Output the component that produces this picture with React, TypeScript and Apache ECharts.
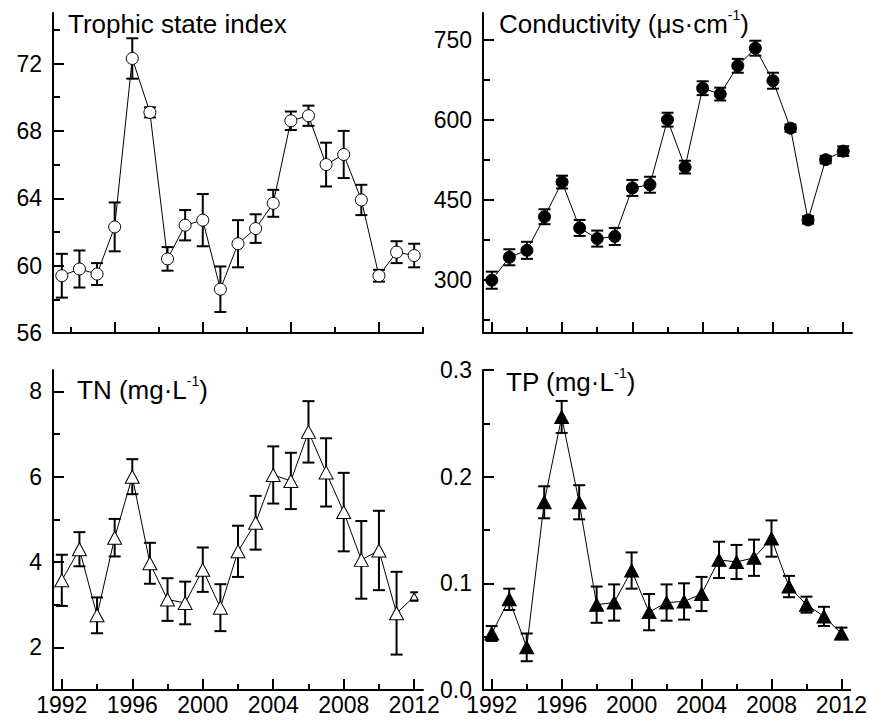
import React, { useEffect, useRef } from "react";
import * as echarts from "echarts";

const years = [1992, 1993, 1994, 1995, 1996, 1997, 1998, 1999, 2000, 2001, 2002, 2003, 2004, 2005, 2006, 2007, 2008, 2009, 2010, 2011, 2012];

const tsiMean = [59.4, 59.8, 59.5, 62.3, 72.3, 69.1, 60.4, 62.4, 62.7, 58.6, 61.3, 62.2, 63.7, 68.6, 68.9, 66.0, 66.6, 63.9, 59.4, 60.8, 60.6];
const tsiErr = [1.3, 1.1, 0.65, 1.45, 1.2, 0.3, 0.7, 0.9, 1.55, 1.35, 1.4, 0.85, 0.8, 0.55, 0.6, 1.3, 1.4, 0.9, 0.35, 0.65, 0.7];

const condMean = [299, 342, 355, 418, 483, 397, 377, 381, 472, 478, 600, 511, 659, 648, 701, 734, 673, 584, 412, 525, 541];
const condErr = [16, 15, 16, 14, 12, 15, 15, 16, 15, 15, 13, 12, 13, 12, 13, 14, 15, 7, 7, 7, 9];

const tnMean = [3.57, 4.3, 2.75, 4.57, 6.0, 3.97, 3.12, 3.04, 3.82, 2.93, 4.25, 4.92, 6.04, 5.9, 7.05, 6.1, 5.17, 4.05, 4.27, 2.8, 3.19];
const tnErr = [0.6, 0.4, 0.42, 0.44, 0.41, 0.48, 0.5, 0.5, 0.52, 0.55, 0.6, 0.63, 0.67, 0.66, 0.72, 0.8, 0.92, 0.91, 0.93, 0.97, 0.1];

const tpMean = [0.053, 0.085, 0.04, 0.176, 0.256, 0.176, 0.08, 0.082, 0.112, 0.073, 0.082, 0.083, 0.09, 0.122, 0.12, 0.124, 0.142, 0.097, 0.08, 0.069, 0.053];
const tpErr = [0.007, 0.01, 0.013, 0.015, 0.015, 0.016, 0.017, 0.017, 0.017, 0.017, 0.017, 0.017, 0.016, 0.017, 0.016, 0.017, 0.017, 0.01, 0.0075, 0.009, 0.0055];

const xMajorTop = [1995, 2000, 2005, 2010];
const xMinorTop = [1992.5, 1997.5, 2002.5, 2007.5, 2012.5];
const xMajorBottom = [1992, 1996, 2000, 2004, 2008, 2012];
const xMinorBottom = [1994, 1998, 2002, 2006, 2010];

const tsiTicks = [56, 60, 64, 68, 72];
const tsiMinor = [58, 62, 66, 70, 74];
const condTicks = [300, 450, 600, 750];
const condMinor = [225, 375, 525, 675];
const tnTicks = [2, 4, 6, 8];
const tnMinor = [3, 5, 7];
const tpTicks = [0, 0.1, 0.2, 0.3];
const tpMinor = [0.05, 0.15, 0.25];

const FONT = "Liberation Sans";

export default function App() {
  const ref = useRef<HTMLDivElement>(null);

  useEffect(() => {
    if (!ref.current) return;
    const chart = echarts.init(ref.current, null, { renderer: "svg" });

    const grids = [
      { left: 53, top: 13, width: 370, height: 320 },
      { left: 483, top: 13, width: 369, height: 320 },
      { left: 53, top: 370, width: 370, height: 320 },
      { left: 483, top: 370, width: 369, height: 320 },
    ];

    const panels = [
      { mean: tsiMean, err: tsiErr, ymin: 56, ymax: 75, major: tsiTicks, minor: tsiMinor, xMaj: xMajorTop, xMin: xMinorTop, xLabels: false, symbol: "circle", size: 12, fill: "#fff", fmt: (v: number) => String(v) },
      { mean: condMean, err: condErr, ymin: 200, ymax: 800, major: condTicks, minor: condMinor, xMaj: xMajorBottom, xMin: xMinorBottom, xLabels: false, symbol: "circle", size: 12, fill: "#000", fmt: (v: number) => String(v) },
      { mean: tnMean, err: tnErr, ymin: 1, ymax: 8.5, major: tnTicks, minor: tnMinor, xMaj: xMajorBottom, xMin: xMinorBottom, xLabels: true, symbol: "triangle", size: [14, 13], fill: "#fff", fmt: (v: number) => String(v) },
      { mean: tpMean, err: tpErr, ymin: 0, ymax: 0.3, major: tpTicks, minor: tpMinor, xMaj: xMajorBottom, xMin: xMinorBottom, xLabels: true, symbol: "triangle", size: [14, 13], fill: "#000", fmt: (v: number) => v.toFixed(1) },
    ];

    const xAxis: any[] = [];
    const yAxis: any[] = [];
    const series: any[] = [];

    const labelStyle = { fontFamily: FONT, fontSize: 23, color: "#000" };

    panels.forEach((p, i) => {
      xAxis.push({
        type: "value", gridIndex: i, position: "bottom", min: 1991.5, max: 2012.5,
        axisLine: { show: true, onZero: false, lineStyle: { color: "#000", width: 2 } },
        axisTick: { show: true, inside: true, length: 11, lineStyle: { color: "#000", width: 2 }, customValues: p.xMaj },
        axisLabel: { show: p.xLabels, customValues: p.xMaj, margin: 3, formatter: (v: number) => String(v), ...labelStyle },
        splitLine: { show: false },
      });
      xAxis.push({
        type: "value", gridIndex: i, position: "bottom", min: 1991.5, max: 2012.5,
        axisLine: { show: false, onZero: false },
        axisTick: { show: true, inside: true, length: 6, lineStyle: { color: "#000", width: 2 }, customValues: p.xMin },
        axisLabel: { show: false },
        splitLine: { show: false },
      });
      yAxis.push({
        type: "value", gridIndex: i, position: "left", min: p.ymin, max: p.ymax,
        axisLine: { show: true, onZero: false, lineStyle: { color: "#000", width: 2 } },
        axisTick: { show: true, inside: true, length: 11, lineStyle: { color: "#000", width: 2 }, customValues: p.major },
        axisLabel: { show: true, customValues: p.major, margin: 11, formatter: p.fmt, ...labelStyle },
        splitLine: { show: false },
      });
      yAxis.push({
        type: "value", gridIndex: i, position: "left", min: p.ymin, max: p.ymax,
        axisLine: { show: false, onZero: false },
        axisTick: { show: true, inside: true, length: 7, lineStyle: { color: "#000", width: 2 }, customValues: p.minor },
        axisLabel: { show: false },
        splitLine: { show: false },
      });

      const errData = years.map((y, k) => [y, p.mean[k], p.err[k]]);
      const small = i === 2 ? [20] : [];
      series.push({
        type: "custom",
        xAxisIndex: i * 2,
        yAxisIndex: i * 2,
        z: 2,
        silent: true,
        encode: { x: 0, y: 1 },
        data: errData,
        renderItem: (params: any, api: any) => {
          const x = api.value(0);
          const m = api.value(1);
          const e = api.value(2);
          const t = api.coord([x, m + e]);
          const b = api.coord([x, m - e]);
          const hw = small.indexOf(params.dataIndex) >= 0 ? 4 : 6;
          const st = { stroke: "#000", lineWidth: 2 };
          return {
            type: "group",
            children: [
              { type: "line", shape: { x1: t[0], y1: t[1], x2: b[0], y2: b[1] }, style: st },
              { type: "line", shape: { x1: t[0] - hw, y1: t[1], x2: t[0] + hw, y2: t[1] }, style: st },
              { type: "line", shape: { x1: b[0] - hw, y1: b[1], x2: b[0] + hw, y2: b[1] }, style: st },
            ],
          };
        },
      });
      series.push({
        type: "line",
        xAxisIndex: i * 2,
        yAxisIndex: i * 2,
        z: 3,
        silent: true,
        symbol: p.symbol,
        symbolSize: p.size,
        showAllSymbol: true,
        lineStyle: { color: "#000", width: 1 },
        itemStyle: { color: p.fill, borderColor: "#000", borderWidth: 1, opacity: 1 },
        data: years.map((y, k) => {
          if (small.indexOf(k) >= 0) return { value: [y, p.mean[k]], symbolSize: [8, 7] };
          return [y, p.mean[k]];
        }),
      });
    });

    const titleStyle = { fontFamily: FONT, fill: "#000" };
    const rich = {
      a: { fontFamily: FONT, fontSize: 26, color: "#000", lineHeight: 32 },
      s: { fontFamily: FONT, fontSize: 14, color: "#000", verticalAlign: "top", lineHeight: 14 },
    };

    const graphic = [
      { type: "text", left: 68, top: 11, style: { text: "Trophic state index", fontSize: 26, ...titleStyle } },
      { type: "text", left: 499, top: 8, style: { text: "{a|Conductivity (μs·cm}{s|-1}{a|)}", rich, ...titleStyle } },
      { type: "text", left: 77, top: 374, style: { text: "{a|TN (mg·L}{s|-1}{a|)}", rich, ...titleStyle } },
      { type: "text", left: 506, top: 366, style: { text: "{a|TP (mg·L}{s|-1}{a|)}", rich, ...titleStyle } },
    ];

    chart.setOption({
      animation: false,
      backgroundColor: "#fff",
      grid: grids,
      xAxis,
      yAxis,
      series,
      graphic,
    });

    return () => chart.dispose();
  }, []);

  return <div ref={ref} style={{ position: "fixed", left: 0, top: 0, width: 870, height: 720 }} />;
}
